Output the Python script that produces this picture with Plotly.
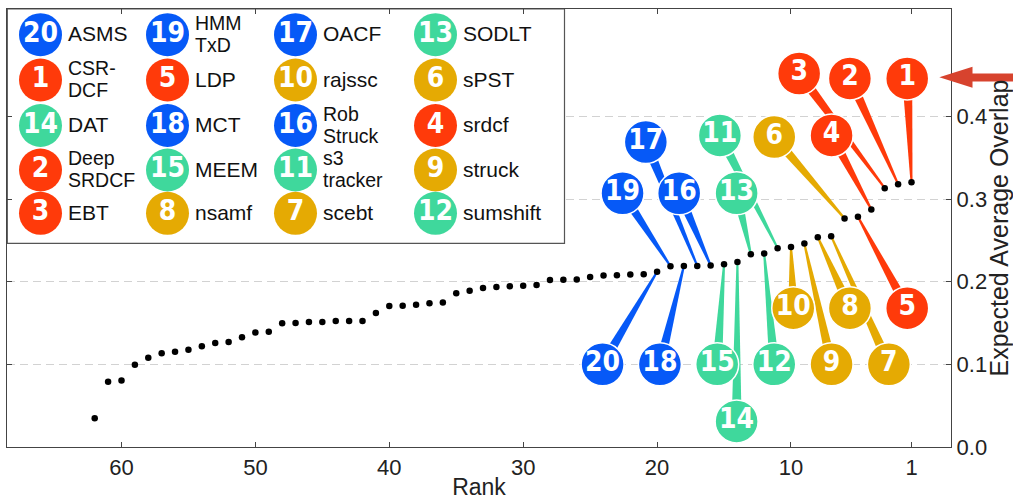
import plotly.graph_objects as go

# ---------------- data ----------------
ranks = list(range(1, 63))
scores = [0.3205, 0.3180, 0.3132, 0.2874, 0.2785, 0.2765, 0.2551, 0.2539, 0.2462, 0.2421,
          0.2406, 0.2341, 0.2333, 0.2240, 0.2212, 0.2196, 0.2191, 0.2191, 0.2188, 0.2121,
          0.2091, 0.2087, 0.2079, 0.2075, 0.2058, 0.2028, 0.2024, 0.2021, 0.1960, 0.1952,
          0.1944, 0.1935, 0.1925, 0.1890, 0.1860, 0.1750, 0.1738, 0.1722, 0.1710, 0.1706,
          0.1621, 0.1524, 0.1524, 0.1524, 0.1512, 0.1512, 0.1500, 0.1496, 0.1395, 0.1387,
          0.1327, 0.1270, 0.1258, 0.1218, 0.1177, 0.1153, 0.1133, 0.1080, 0.0996, 0.0806,
          0.0790, 0.0347]

# the twenty best trackers, in rank order
top_names = ["CSR-DCF", "DeepSRDCF", "EBT", "srdcf", "LDP",
             "sPST", "scebt", "nsamf", "struck", "rajssc",
             "s3tracker", "sumshift", "SODLT", "DAT", "MEEM",
             "RobStruck", "OACF", "MCT", "HMMTxD", "ASMS"]
top_groups = ["red"] * 5 + ["gold"] * 5 + ["green"] * 5 + ["blue"] * 5

# names shown on two lines in the key
split_names = {"CSR-DCF": ("CSR-", "DCF"), "DeepSRDCF": ("Deep", "SRDCF"),
               "HMMTxD": ("HMM", "TxD"), "RobStruck": ("Rob", "Struck"),
               "s3tracker": ("s3", "tracker")}

x_ticks = [60, 50, 40, 30, 20, 10, 1]
y_ticks = [0.0, 0.1, 0.2, 0.3, 0.4]

# ---------------- layout / style ----------------
W, H = 1013, 500
M_L, M_R, M_T, M_B = 7, 62, 9, 53
PW, PH = W - M_L - M_R, H - M_T - M_B
X_RANGE = [68.55, -1.95]
Y_RANGE = [0.0, 0.53]

COLORS = {"red": "#ff3a0a", "gold": "#e5aa03", "green": "#3fd89c", "blue": "#0659f7"}
BUBBLE_FONT = "DejaVu Sans Condensed, Liberation Sans Narrow, Arial Narrow, sans-serif"
TEXT_FONT = "Liberation Sans, Arial, Helvetica, sans-serif"
BUBBLE_D = 43
BUBBLE_FS = 28

# callout bubble centres, in axis units (rank, overlap)
bubble_pos = {1: (1.32, 0.446), 2: (5.60, 0.446), 3: (9.39, 0.452), 4: (6.97, 0.377),
              5: (1.32, 0.168), 6: (11.25, 0.375), 7: (2.69, 0.100), 8: (5.60, 0.168),
              9: (6.97, 0.100), 10: (9.83, 0.168), 11: (15.31, 0.377), 12: (11.25, 0.100),
              13: (14.06, 0.307), 14: (14.06, 0.031), 15: (15.51, 0.100), 16: (18.35, 0.307),
              17: (20.84, 0.369), 18: (19.79, 0.100), 19: (22.58, 0.307), 20: (24.07, 0.100)}

# key placement in figure pixels
LEG_COL_X = [40.5, 167.5, 295.5, 435.5]
LEG_ROW_Y = [34.7, 80.0, 125.5, 170.0, 213.3]
LEG_TEXT_DX = 26
LEG_BOX = (7.3, 9.0, 564.5, 243.3)


def to_px(x, y):
    X = (x - X_RANGE[0]) / (X_RANGE[1] - X_RANGE[0]) * PW
    Y = (y - Y_RANGE[0]) / (Y_RANGE[1] - Y_RANGE[0]) * PH
    return X, Y


def to_data(X, Y):
    return (X_RANGE[0] + X / PW * (X_RANGE[1] - X_RANGE[0]),
            Y_RANGE[0] + Y / PH * (Y_RANGE[1] - Y_RANGE[0]))


def wedge(x0, y0, x1, y1, w_tip=1.0, w_base=5.0):
    """Tapered pin from a point (x0, y0) to a bubble centre (x1, y1)."""
    X0, Y0 = to_px(x0, y0)
    X1, Y1 = to_px(x1, y1)
    dx, dy = X1 - X0, Y1 - Y0
    n = (dx * dx + dy * dy) ** 0.5
    nx, ny = -dy / n, dx / n
    pts = [(X0 + nx * w_tip, Y0 + ny * w_tip), (X1 + nx * w_base, Y1 + ny * w_base),
           (X1 - nx * w_base, Y1 - ny * w_base), (X0 - nx * w_tip, Y0 - ny * w_tip)]
    d = [to_data(a, b) for a, b in pts]
    return [p[0] for p in d] + [d[0][0]], [p[1] for p in d] + [d[0][1]]


fig = go.Figure()

# pins linking each of the top twenty to its bubble
for i, name in enumerate(top_names):
    r = ranks[i]
    bx, by = bubble_pos[r]
    wx, wy = wedge(r, scores[i], bx, by)
    c = COLORS[top_groups[i]]
    fig.add_trace(go.Scatter(x=wx, y=wy, mode="lines", fill="toself", fillcolor=c,
                             line=dict(width=0, color=c), hoverinfo="skip",
                             showlegend=False))

# numbered bubbles
fig.add_trace(go.Scatter(
    x=[bubble_pos[r][0] for r in ranks[:20]],
    y=[bubble_pos[r][1] for r in ranks[:20]],
    mode="markers+text",
    marker=dict(size=BUBBLE_D, color=[COLORS[g] for g in top_groups],
                line=dict(color="white", width=1.5)),
    text=[str(r) for r in ranks[:20]],
    textposition="middle center",
    textfont=dict(family=BUBBLE_FONT, size=BUBBLE_FS, color="white", weight="bold"),
    cliponaxis=False, hoverinfo="skip", showlegend=False))

# all trackers
fig.add_trace(go.Scatter(x=ranks, y=scores, mode="markers",
                         marker=dict(size=6.5, color="black"),
                         cliponaxis=False, showlegend=False,
                         hovertemplate="Rank %{x}: %{y:.3f}<extra></extra>"))

# ---------------- key (drawn on a pixel-unit overlay) ----------------
order = sorted(range(20), key=lambda i: top_names[i].lower())
leg_x, leg_y, leg_c, leg_t = [], [], [], []
annotations = []
for k, i in enumerate(order):
    col, row = divmod(k, 5)
    cx = LEG_COL_X[col] - M_L
    cy = LEG_ROW_Y[row] - M_T
    leg_x.append(cx)
    leg_y.append(cy)
    leg_c.append(COLORS[top_groups[i]])
    leg_t.append(str(ranks[i]))
    name = top_names[i]
    lines = split_names.get(name, (name,))
    if len(lines) == 1:
        placed = [(lines[0], 0, 21)]
    else:
        placed = [(lines[0], -11, 19.5), (lines[1], 11, 19.5)]
    for line, off, fs in placed:
        annotations.append(dict(x=cx + LEG_TEXT_DX, y=cy - 1 + off, xref="x2", yref="y2",
                                text=line, showarrow=False, xanchor="left", yanchor="middle",
                                borderpad=0,
                                font=dict(family=TEXT_FONT, size=fs, color="#111111")))

fig.add_trace(go.Scatter(x=leg_x, y=leg_y, xaxis="x2", yaxis="y2", mode="markers+text",
                         marker=dict(size=BUBBLE_D, color=leg_c, line=dict(width=0)),
                         text=leg_t, textposition="middle center",
                         textfont=dict(family=BUBBLE_FONT, size=BUBBLE_FS, color="white",
                                       weight="bold"),
                         cliponaxis=False, hoverinfo="skip", showlegend=False))

# key frame, covering the grid but under the marks
bx0, by0 = to_data(LEG_BOX[0] - M_L, H - M_B - LEG_BOX[1])
bx1, by1 = to_data(LEG_BOX[2] - M_L, H - M_B - LEG_BOX[3])
shapes = [dict(type="rect", xref="x", yref="y", x0=bx0, x1=bx1, y0=by0, y1=by1,
               fillcolor="white", line=dict(color="#555555", width=1.2), layer="between")]


# red pointer at the top-ranked tracker
def paper(X, Y):
    return (X - M_L) / PW, (H - M_B - Y) / PH


tip, hb, he = (939.3, 77.3), 972.5, 1016
pts = [tip, (hb, 66.8), (hb, 73.6), (he, 73.6), (he, 81.4), (hb, 81.4), (hb, 87.8)]
pp = [paper(*p) for p in pts]
path = "M " + " L ".join(f"{a:.5f},{b:.5f}" for a, b in pp) + " Z"
shapes.append(dict(type="path", xref="paper", yref="paper", path=path,
                   fillcolor="#d7432e", line=dict(width=0), layer="above"))

axis_font = dict(family=TEXT_FONT, size=22, color="#222222")
fig.update_layout(
    width=W, height=H,
    margin=dict(l=M_L, r=M_R, t=M_T, b=M_B, autoexpand=False),
    paper_bgcolor="white", plot_bgcolor="white",
    showlegend=False,
    shapes=shapes,
    annotations=annotations,
    xaxis=dict(range=X_RANGE, tickvals=x_ticks, ticktext=[str(v) for v in x_ticks],
               ticks="inside", ticklen=5, tickwidth=1.2, tickcolor="#444444",
               showline=True, linecolor="#444444", linewidth=1.3, mirror="ticks",
               showgrid=False, zeroline=False, tickfont=axis_font,
               title=dict(text="Rank", font=dict(family=TEXT_FONT, size=23, color="#222222"),
                          standoff=6),
               automargin=False),
    yaxis=dict(range=Y_RANGE, side="right", tickvals=y_ticks,
               ticktext=[f"{v:.1f}" for v in y_ticks],
               ticks="inside", ticklen=5, tickwidth=1.2, tickcolor="#444444",
               showline=True, linecolor="#444444", linewidth=1.3, mirror="ticks",
               showgrid=True, gridcolor="#d2d2d2", gridwidth=1.4, griddash="8px,5px",
               zeroline=False, tickfont=axis_font,
               title=dict(text="Expected Average Overlap",
                          font=dict(family=TEXT_FONT, size=25, color="#222222"), standoff=5),
               automargin=False),
    xaxis2=dict(overlaying="x", range=[0, PW], visible=False, fixedrange=True),
    yaxis2=dict(overlaying="y", range=[PH, 0], visible=False, fixedrange=True),
)

fig.write_html("out.html")
